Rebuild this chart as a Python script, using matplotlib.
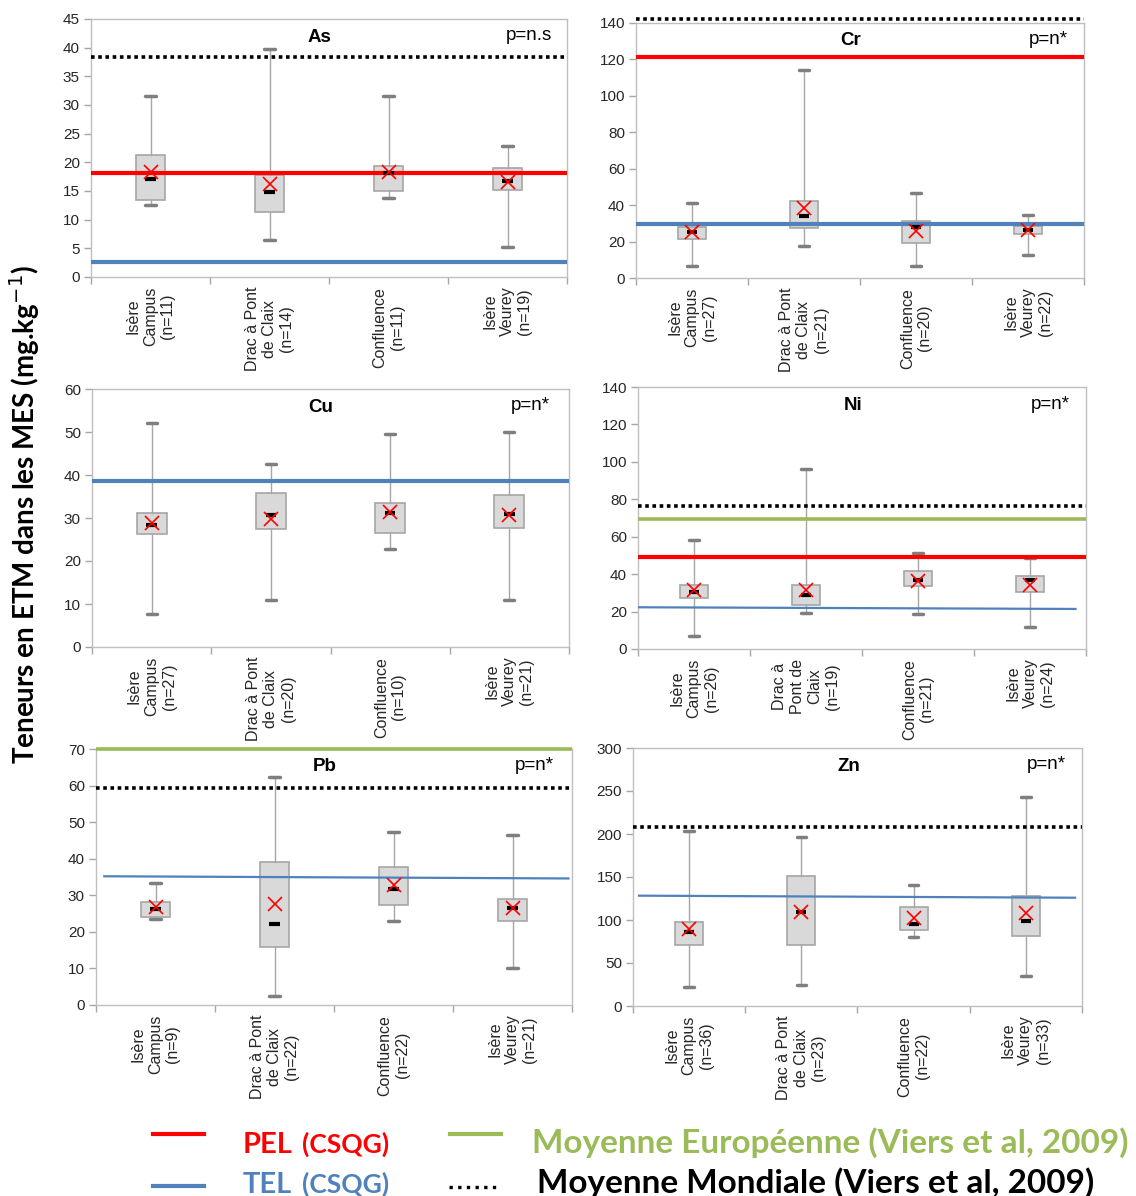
'''
Boxplots of trace metal contents in suspended matter (MES) per site,
with sediment quality guidelines and reference averages.
'''

import matplotlib
matplotlib.use('Agg')
import matplotlib.pyplot as plt
from matplotlib.lines import Line2D

plt.rcParams['font.family'] = ['Liberation Sans', 'DejaVu Sans']

elements = ['As', 'Cr', 'Cu', 'Ni', 'Pb', 'Zn']
sites = ['Isère\nCampus', 'Drac à Pont\nde Claix', 'Confluence', 'Isère\nVeurey']
sites_ni = ['Isère\nCampus', 'Drac à\nPont de\nClaix', 'Confluence', 'Isère\nVeurey']

n_counts = {
    'As': [11, 14, 11, 19],
    'Cr': [27, 21, 20, 22],
    'Cu': [27, 20, 10, 21],
    'Ni': [26, 19, 21, 24],
    'Pb': [9, 22, 22, 21],
    'Zn': [36, 23, 22, 33],
}
p_labels = {'As': 'p=n.s', 'Cr': 'p=n*', 'Cu': 'p=n*', 'Ni': 'p=n*', 'Pb': 'p=n*', 'Zn': 'p=n*'}

# box statistics
whis_lo = {
    'As': [12.6, 6.4, 13.7, 5.2],
    'Cr': [6.4, 17.3, 6.4, 12.4],
    'Cu': [7.7, 10.9, 22.8, 11.0],
    'Ni': [7.1, 19.1, 18.9, 11.6],
    'Pb': [23.5, 2.4, 23.0, 10.0],
    'Zn': [21.8, 24.9, 80.8, 35.0],
}
q1 = {
    'As': [13.4, 11.4, 15.0, 15.2],
    'Cr': [21.4, 27.7, 19.3, 23.9],
    'Cu': [26.2, 27.4, 26.4, 27.6],
    'Ni': [27.5, 23.5, 33.4, 30.5],
    'Pb': [24.1, 15.9, 27.4, 23.1],
    'Zn': [71.1, 71.1, 88.6, 81.6],
}
median = {
    'As': [17.1, 14.75, 18.2, 16.7],
    'Cr': [25.2, 33.9, 27.9, 26.5],
    'Cu': [28.4, 30.7, 31.2, 30.9],
    'Ni': [30.7, 28.7, 37.1, 36.7],
    'Pb': [26.2, 22.1, 31.6, 26.6],
    'Zn': [85.5, 109.2, 95.2, 98.3],
}
q3 = {
    'As': [21.3, 17.8, 19.4, 19.0],
    'Cr': [27.9, 42.3, 31.2, 28.3],
    'Cu': [31.1, 35.7, 33.6, 35.4],
    'Ni': [34.4, 34.2, 41.9, 38.9],
    'Pb': [28.3, 39.2, 37.6, 29.1],
    'Zn': [97.5, 150.8, 114.7, 127.9],
}
whis_hi = {
    'As': [31.6, 39.8, 31.6, 22.8],
    'Cr': [41.1, 114.4, 46.9, 34.5],
    'Cu': [52.1, 42.5, 49.6, 49.9],
    'Ni': [58.3, 96.1, 51.4, 48.6],
    'Pb': [33.4, 62.4, 47.4, 46.5],
    'Zn': [203.3, 197.0, 140.7, 242.9],
}
mean = {
    'As': [18.3, 16.3, 18.4, 16.5],
    'Cr': [25.2, 38.3, 25.9, 26.1],
    'Cu': [28.9, 29.7, 31.5, 30.8],
    'Ni': [31.6, 31.6, 36.6, 34.1],
    'Pb': [26.8, 27.7, 32.8, 26.6],
    'Zn': [89.0, 109.6, 102.2, 108.4],
}

# reference levels
pel = {'As': 18.2, 'Cr': 121.4, 'Ni': 48.9}
tel = {'As': (2.7, 2.7), 'Cr': (29.9, 29.9), 'Cu': (38.7, 38.7),
       'Ni': (22.3, 21.4), 'Pb': (35.2, 34.6), 'Zn': (128.3, 125.9)}
euro = {'Ni': 69.2, 'Pb': 69.9}
world = {'As': 38.4, 'Cr': 142.0, 'Ni': 76.2, 'Pb': 59.2, 'Zn': 208.7}

y_max = {'As': 45, 'Cr': 140, 'Cu': 60, 'Ni': 140, 'Pb': 70, 'Zn': 300}
y_step = {'As': 5, 'Cr': 20, 'Cu': 10, 'Ni': 20, 'Pb': 10, 'Zn': 50}

RED = '#FF0000'
BLUE = '#4F81BD'
GREEN = '#9BBB59'

W, H = 1136, 1196
# axes boxes in pixels: left, right, top, bottom
panel_px = {
    'As': (91, 567, 19, 277),
    'Cr': (636, 1084, 23, 278),
    'Cu': (92, 569, 389, 647),
    'Ni': (638, 1086, 387, 649),
    'Pb': (96, 572, 749, 1005),
    'Zn': (633, 1082, 748, 1006),
}
# x extents (axes fraction) of the sloped TEL lines
tel_x = {'Ni': (0.0, 0.979), 'Pb': (0.015, 0.995), 'Zn': (0.011, 0.987)}


def hline(ax, y0, y1, x0=0.0, x1=1.0, **kw):
    ax.plot([x0, x1], [y0, y1], transform=ax.get_yaxis_transform(),
            clip_on=False, solid_capstyle='butt', **kw)


fig = plt.figure(figsize=(W / 100, H / 100), dpi=100)

for el in elements:
    l, r, t, b = panel_px[el]
    ax = fig.add_axes([l / W, 1 - b / H, (r - l) / W, (b - t) / H])
    pos = [1, 2, 3, 4]

    stats = []
    for i in range(4):
        stats.append({'whislo': whis_lo[el][i], 'q1': q1[el][i], 'med': median[el][i],
                      'q3': q3[el][i], 'whishi': whis_hi[el][i], 'mean': mean[el][i]})
    ax.bxp(stats, positions=pos, widths=0.25, patch_artist=True, showfliers=False,
           showmeans=False, capwidths=0.085,
           boxprops=dict(facecolor='#D9D9D9', edgecolor='#A6A6A6', linewidth=1.2),
           whiskerprops=dict(color='#A6A6A6', linewidth=1.0),
           capprops=dict(color='#7F7F7F', linewidth=2.5, solid_capstyle='round'),
           medianprops=dict(linewidth=0), zorder=2)
    ax.hlines(median[el], [p - 0.045 for p in pos], [p + 0.045 for p in pos],
              color='black', linewidth=3, zorder=5)
    ax.plot(pos, mean[el], linestyle='none', marker='x', markersize=9.5,
            markeredgewidth=1.2, color=RED, zorder=6)

    # reference lines
    if el in world:
        hline(ax, world[el], world[el], linestyle=(0, (1, 1)), color='black',
              linewidth=2.6, zorder=3)
    if el in euro:
        hline(ax, euro[el], euro[el], color=GREEN, linewidth=2.6, zorder=3)
    if el in pel:
        hline(ax, pel[el], pel[el], color=RED, linewidth=3, zorder=3)
    if el in tel_x:
        hline(ax, tel[el][0], tel[el][1], tel_x[el][0], tel_x[el][1],
              color=BLUE, linewidth=1.6, zorder=3)
    else:
        hline(ax, tel[el][0], tel[el][1], color=BLUE, linewidth=3, zorder=3)

    ax.set_xlim(0.5, 4.5)
    ax.set_ylim(0, y_max[el])
    ax.set_yticks(range(0, y_max[el] + 1, y_step[el]))
    for s in ax.spines.values():
        s.set_color('#BFBFBF')
        s.set_linewidth(1.0)
    ax.tick_params(axis='y', direction='out', length=5, width=1, color='#A6A6A6',
                   labelsize=11, labelcolor='#262626', pad=3)
    ax.set_xticks([0.5, 1.5, 2.5, 3.5, 4.5])
    ax.set_xticklabels([])
    ax.tick_params(axis='x', which='major', direction='out', length=5, width=1, color='#A6A6A6')
    names = sites_ni if el == 'Ni' else sites
    labels = [f'{s}\n(n={n})' for s, n in zip(names, n_counts[el])]
    ax.set_xticks(pos, minor=True)
    ax.set_xticklabels(labels, minor=True, rotation=90, va='top', ha='center',
                       multialignment='center', fontsize=11.5, color='#262626')
    ax.tick_params(axis='x', which='minor', length=0, pad=7)

    ax.text(0.48, 0.93, el, transform=ax.transAxes, ha='center', va='center',
            fontsize=13.5, fontweight='bold')
    ax.text(0.92, 0.935, p_labels[el], transform=ax.transAxes, ha='center', va='center',
            fontsize=13.5)

fig.text(25 / W, 1 - 515 / H, 'Teneurs en ETM dans les MES (mg.kg$^{-1}$)',
         rotation=90, ha='center', va='center', fontsize=20, fontweight='bold',
         family=['Lato', 'DejaVu Sans'])

# legend, drawn by hand below the panels
leg_font = ['Lato', 'DejaVu Sans']
fig.add_artist(Line2D([153 / W, 204 / W], [1 - 1134 / H] * 2, color=RED, linewidth=3))
fig.add_artist(Line2D([153 / W, 204 / W], [1 - 1186 / H] * 2, color=BLUE, linewidth=3))
fig.add_artist(Line2D([450 / W, 501 / W], [1 - 1134 / H] * 2, color=GREEN, linewidth=3))
fig.add_artist(Line2D([449 / W, 497 / W], [1 - 1187 / H] * 2, color='black',
                      linewidth=2.4, linestyle=(0, (1, 1.6))))

fig.text(243 / W, 1 - 1153 / H, 'PEL', color=RED, fontsize=21,
         fontweight='bold', family=leg_font, va='baseline')
fig.text(243 / W, 1 - 1193 / H, 'TEL', color=BLUE, fontsize=21,
         fontweight='bold', family=leg_font, va='baseline')
fig.text(302 / W, 1 - 1153 / H, '(CSQG)', color=RED, fontsize=19,
         fontweight='bold', family=leg_font, va='baseline')
fig.text(302 / W, 1 - 1193 / H, '(CSQG)', color=BLUE, fontsize=19,
         fontweight='bold', family=leg_font, va='baseline')
fig.text(532 / W, 1 - 1153 / H, 'Moyenne Européenne (Viers et al, 2009)', color=GREEN,
         fontsize=24, fontweight='bold', family=leg_font, va='baseline')
fig.text(537 / W, 1 - 1193 / H, 'Moyenne Mondiale (Viers et al, 2009)', color='black',
         fontsize=24, fontweight='bold', family=leg_font, va='baseline')

fig.savefig('out.png', dpi=100)
